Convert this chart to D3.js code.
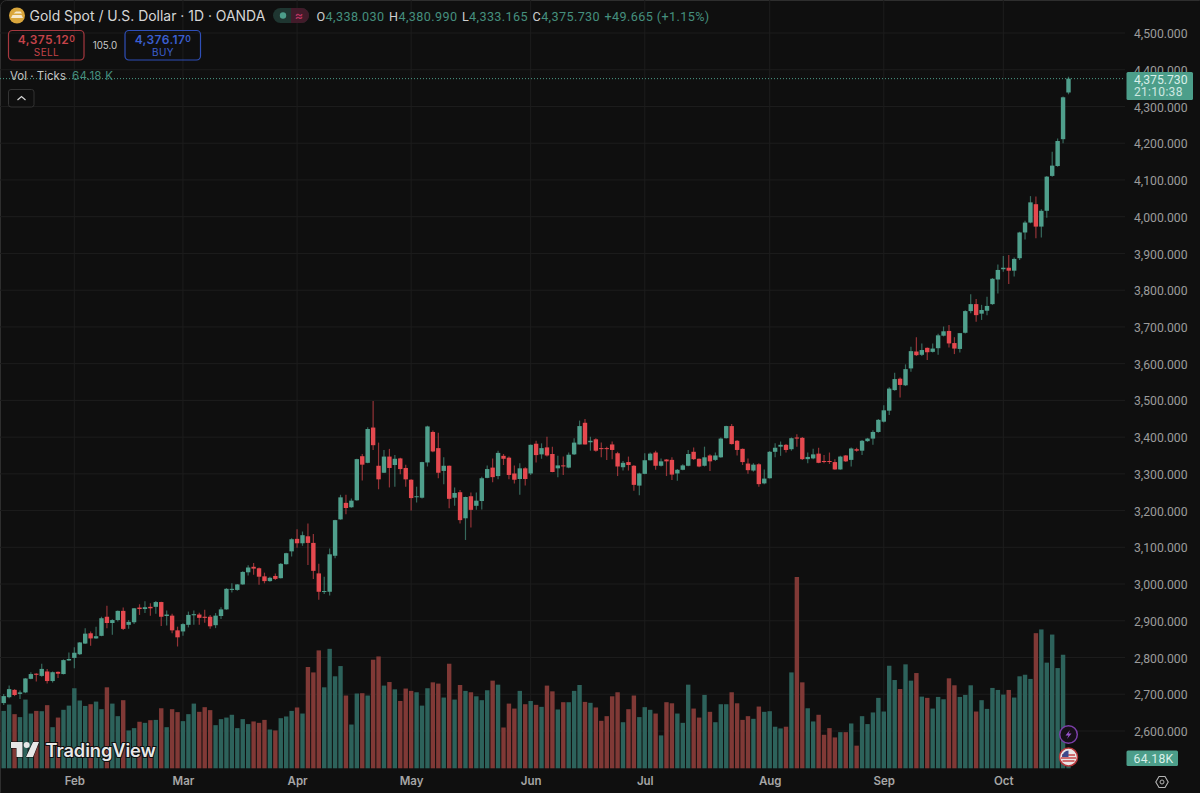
<!DOCTYPE html>
<html>
<head>
<meta charset="utf-8">
<title>Gold Spot / U.S. Dollar</title>
<script src="https://cdn.jsdelivr.net/npm/d3@7"></script>
<style>
  html, body { margin: 0; padding: 0; background: #0f0f0f; overflow: hidden; }
  svg { display: block; }
  text { font-family: Inter, Roboto, "Noto Sans", sans-serif; }
  .num { font-family: Roboto, Inter, sans-serif; }
</style>
</head>
<body>
<script>
//Step 0: Data
var opens = [
  2676,2692,2712,2701,2705,2742,2756,2750,2762,2736,
  2761,2755,2792,2799,2809,2838,2866,2852,2859,2911,
  2894,2902,2927,2889,2896,2936,2932,2938,2938,2951,
  2913,2914,2874,2871,2889,2915,2917,2911,2911,2888,
  2913,2931,2984,2984,2999,3032,3047,3043,3021,3008,
  3022,3016,3054,3089,3123,3111,3130,3112,3029,2979,
  2979,3077,3176,3221,3209,3228,3348,3330,3426,3322,
  3303,3347,3324,3342,3316,3284,3237,3235,3331,3414,
  3370,3308,3322,3235,3250,3179,3239,3213,3226,3289,
  3317,3294,3349,3344,3301,3286,3315,3301,3382,3353,
  3372,3354,3315,3323,3317,3353,3380,3439,3386,3394,
  3370,3370,3380,3356,3318,3332,3322,3268,3300,3337,
  3358,3322,3339,3338,3301,3311,3322,3360,3341,3322,
  3350,3338,3345,3397,3430,3390,3368,3328,3309,3326,
  3274,3288,3360,3374,3379,3367,3399,3398,3340,3342,
  3355,3335,3335,3332,3312,3350,3338,3367,3363,3389,
  3396,3414,3442,3472,3528,3559,3541,3587,3633,3624,
  3643,3632,3642,3676,3689,3656,3640,3684,3743,3762,
  3736,3744,3762,3829,3857,3861,3853,3887,3957,3984,
  4034,3973,4016,4111,4138,4211,4338.03
];
var highs = [
  2701,2724,2714,2710,2744,2760,2757,2783,2769,2762,
  2762,2795,2814,2828,2842,2880,2871,2884,2911,2941,
  2904,2928,2936,2902,2935,2945,2953,2948,2954,2952,
  2928,2919,2884,2893,2925,2928,2922,2930,2916,2921,
  2937,2989,3002,3000,3035,3051,3057,3045,3031,3020,
  3029,3057,3085,3125,3149,3143,3165,3136,3055,3020,
  3097,3175,3243,3243,3233,3341,3354,3427,3498,3385,
  3365,3368,3351,3344,3325,3285,3265,3333,3431,3418,
  3412,3345,3323,3263,3256,3238,3249,3249,3292,3323,
  3342,3363,3354,3347,3323,3329,3318,3380,3390,3383,
  3401,3374,3349,3347,3358,3397,3445,3449,3401,3397,
  3385,3374,3388,3360,3335,3347,3324,3303,3356,3358,
  3363,3342,3340,3345,3313,3326,3365,3372,3342,3374,
  3353,3358,3399,3431,3436,3392,3369,3342,3329,3329,
  3312,3362,3383,3388,3381,3399,3408,3400,3358,3368,
  3371,3351,3358,3340,3349,3351,3372,3371,3392,3398,
  3419,3449,3487,3536,3575,3562,3598,3646,3672,3655,
  3644,3655,3681,3701,3705,3672,3683,3745,3789,3776,
  3760,3782,3833,3870,3893,3896,3889,3959,3989,4056,
  4055,4020,4111,4177,4213,4327,4380.99
];
var lows = [
  2671,2689,2695,2687,2703,2741,2735,2748,2729,2732,
  2744,2754,2791,2771,2807,2837,2832,2851,2858,2880,
  2862,2898,2875,2878,2891,2916,2921,2914,2919,2886,
  2887,2866,2830,2859,2882,2889,2889,2895,2878,2880,
  2905,2930,2977,2982,2998,3023,3025,2998,3002,3006,
  3011,3015,3053,3075,3099,3104,3052,3014,2957,2973,
  2969,3070,3175,3190,3208,3227,3282,3329,3365,3258,
  3302,3263,3265,3299,3265,3200,3222,3233,3320,3359,
  3288,3272,3206,3213,3165,3120,3154,3202,3203,3288,
  3277,3285,3324,3285,3274,3243,3268,3297,3331,3341,
  3347,3304,3291,3297,3315,3351,3380,3380,3363,3360,
  3345,3338,3340,3294,3309,3309,3254,3242,3299,3336,
  3311,3320,3294,3283,3281,3310,3321,3338,3318,3320,
  3308,3335,3344,3396,3380,3350,3324,3300,3306,3265,
  3272,3287,3345,3349,3358,3363,3374,3338,3329,3340,
  3329,3329,3327,3311,3311,3332,3320,3360,3351,3387,
  3379,3412,3440,3460,3526,3508,3539,3578,3621,3621,
  3610,3630,3624,3674,3644,3626,3630,3682,3737,3714,
  3719,3732,3760,3791,3850,3817,3837,3882,3938,3982,
  3941,3943,3997,4109,4136,4200,4333.165
];
var closes = [
  2695,2714,2698,2705,2743,2755,2753,2769,2736,2760,
  2756,2793,2796,2813,2841,2865,2852,2858,2907,2894,
  2902,2927,2878,2897,2934,2932,2937,2934,2951,2911,
  2917,2874,2855,2891,2916,2918,2908,2908,2885,2914,
  2931,2987,2987,2999,3033,3045,3042,3020,3008,3017,
  3014,3055,3084,3122,3111,3133,3112,3036,2979,2981,
  3081,3174,3236,3207,3227,3340,3325,3422,3378,3285,
  3347,3316,3341,3313,3285,3234,3239,3332,3429,3361,
  3303,3322,3232,3248,3174,3237,3202,3227,3288,3313,
  3291,3357,3341,3297,3284,3315,3286,3379,3351,3370,
  3350,3305,3323,3321,3352,3385,3430,3380,3390,3363,
  3368,3368,3365,3320,3330,3324,3270,3301,3337,3355,
  3322,3334,3334,3298,3311,3323,3354,3340,3320,3345,
  3334,3350,3396,3430,3381,3365,3332,3310,3325,3272,
  3287,3360,3371,3379,3365,3397,3396,3340,3346,3353,
  3330,3333,3333,3312,3347,3334,3369,3363,3390,3396,
  3414,3447,3473,3532,3558,3542,3585,3634,3623,3637,
  3631,3641,3677,3688,3655,3641,3683,3743,3762,3732,
  3746,3757,3831,3855,3861,3853,3885,3957,3984,4039,
  3973,4016,4109,4139,4206,4325,4375.73
];
var volumes = [
  370,411,349,330,443,353,370,368,407,265,
  327,377,404,516,437,402,413,430,381,522,
  417,336,439,244,259,300,293,310,312,387,
  265,381,362,304,349,417,364,394,375,278,
  317,327,345,259,317,285,302,293,312,250,
  244,323,334,370,392,353,653,618,760,522,
  770,593,659,469,282,482,484,469,700,721,
  533,556,509,434,514,499,490,404,516,554,
  546,456,674,443,537,499,490,464,439,503,
  565,539,263,417,385,499,413,434,409,396,
  533,496,379,426,426,499,537,428,422,392,
  306,336,464,490,297,381,469,330,394,377,
  353,212,426,419,353,293,539,385,327,473,
  364,297,413,413,490,419,312,336,319,398,
  364,368,268,257,268,618,1233,554,387,302,
  345,216,259,199,233,233,289,146,336,285,
  360,454,366,661,569,511,670,565,614,462,
  454,385,460,445,580,535,460,473,535,366,
  439,383,518,505,475,505,456,593,603,576,
  871,895,681,862,646,732,64.18
];
var priceTicks = [2600,2700,2800,2900,3000,3100,3200,3300,3400,3500,3600,3700,3800,3900,4000,4100,4200,4300,4400,4500];
var monthTicks = [13,33,54,75,97,118,141,162,184];
var monthLabels = ['Feb','Mar','Apr','May','Jun','Jul','Aug','Sep','Oct'];
var ohlcLabels = ['O','H','L','C'];
var ohlcValues = ['4,338.030','4,380.990','4,333.165','4,375.730'];

function main() {
//Step 1: Setup
    var width = 1200;
    var height = 793;
    var plotRight = 1125;
    var plotBottom = 768.3;
    var upColor = '#4f9f8c';
    var downColor = '#e5494f';
    var upVol = '#2d625b';
    var downVol = '#803936';
    var gridColor = '#1d1d1d';
    var axisColor = '#9b9b9b';
    var tagColor = '#4c9e8a';
    var last = closes.length - 1;

    var svg = d3.select('body').append('svg')
                .attr('width', width)
                .attr('height', height);

    svg.append('rect')
        .attr('x', 0.5).attr('y', 0.5)
        .attr('width', width + 5).attr('height', height + 5)
        .attr('rx', 6)
        .attr('fill', '#0f0f0f')
        .attr('stroke', '#2e2e2e');

//Step 2: Scaling
    var x = d3.scalePoint()
                .domain(d3.range(closes.length))
                .range([3.7, 1068.5]);
    var y = d3.scaleLinear()
                .domain([2600, 4500])
                .range([731, 33]);
    var v = d3.scaleLinear()
                .domain([0, 1233])
                .range([plotBottom, 577]);
    var bodyWidth = 4.4;

//Step 3: Grid
    svg.append('g').selectAll('line')
        .data(priceTicks)
        .enter()
        .append('line')
        .attr('x1', 0).attr('x2', plotRight)
        .attr('y1', function(d){ return y(d); })
        .attr('y2', function(d){ return y(d); })
        .attr('stroke', gridColor);
    svg.append('g').selectAll('line')
        .data(monthTicks)
        .enter()
        .append('line')
        .attr('x1', function(d){ return x(d); })
        .attr('x2', function(d){ return x(d); })
        .attr('y1', 0).attr('y2', plotBottom)
        .attr('stroke', gridColor);

//Step 4: Volume and candles
    var idx = d3.range(closes.length);
    svg.append('g').selectAll('rect')
        .data(idx)
        .enter()
        .append('rect')
        .attr('x', function(i){ return x(i) - bodyWidth / 2; })
        .attr('y', function(i){ return v(volumes[i]); })
        .attr('width', bodyWidth)
        .attr('height', function(i){ return plotBottom - v(volumes[i]); })
        .attr('fill', function(i){ return closes[i] >= opens[i] ? upVol : downVol; });

    var candle = svg.append('g').selectAll('g')
        .data(idx)
        .enter()
        .append('g');
    candle.append('line')
        .attr('x1', function(i){ return x(i); })
        .attr('x2', function(i){ return x(i); })
        .attr('y1', function(i){ return y(highs[i]); })
        .attr('y2', function(i){ return y(lows[i]); })
        .attr('stroke', function(i){ return closes[i] >= opens[i] ? upColor : downColor; })
        .attr('stroke-opacity', 0.62)
        .attr('stroke-width', 1.2);
    candle.append('rect')
        .attr('x', function(i){ return x(i) - bodyWidth / 2; })
        .attr('y', function(i){ return y(Math.max(opens[i], closes[i])); })
        .attr('width', bodyWidth)
        .attr('height', function(i){ return Math.max(1, Math.abs(y(opens[i]) - y(closes[i]))); })
        .attr('fill', function(i){ return closes[i] >= opens[i] ? upColor : downColor; });

//Step 5: Axes
    var priceAxis = d3.axisRight(y)
                    .tickValues(priceTicks)
                    .tickSize(0)
                    .tickPadding(0)
                    .tickFormat(d3.format(',.3f'));
    var priceG = svg.append('g')
                    .attr('transform', 'translate(1134,0.7)')
                    .call(priceAxis);
    priceG.select('.domain').remove();
    priceG.selectAll('text')
        .attr('class', 'num')
        .attr('fill', axisColor)
        .style('font-family', 'Roboto, Inter, sans-serif')
        .style('font-size', '12.2px');

    var timeAxis = d3.axisBottom(x)
                    .tickValues(monthTicks)
                    .tickSize(0)
                    .tickPadding(0)
                    .tickFormat(function(d, i){ return monthLabels[i]; });
    var timeG = svg.append('g')
                    .attr('transform', 'translate(0,776.5)')
                    .call(timeAxis);
    timeG.select('.domain').remove();
    timeG.selectAll('text')
        .attr('fill', '#a6a6a6')
        .style('font-size', '11.5px')
        .style('font-weight', 600);

//Step 6: Last price line and tags
    svg.append('line')
        .attr('x1', 0).attr('x2', plotRight)
        .attr('y1', y(closes[last])).attr('y2', y(closes[last]))
        .attr('stroke', '#4c9e8a')
        .attr('stroke-dasharray', '1 2');

    svg.append('rect')
        .attr('x', 1126.5).attr('y', 72).attr('width', 66.5).attr('height', 28)
        .attr('rx', 1.5).attr('fill', tagColor);
    svg.append('text').attr('class', 'num').attr('x', 1134).attr('y', 83.5)
        .attr('fill', '#d9efe9').style('font-size', '12.2px')
        .text(ohlcValues[3]);
    svg.append('text').attr('class', 'num').attr('x', 1134).attr('y', 95.5)
        .attr('fill', '#cfe8e1').style('font-size', '12px').style('letter-spacing', '0.3px')
        .text('21:10:38');

    svg.append('rect')
        .attr('x', 1126.5).attr('y', 750.5).attr('width', 51.5).attr('height', 15.5)
        .attr('rx', 1.5).attr('fill', tagColor);
    svg.append('text').attr('class', 'num').attr('x', 1133.5).attr('y', 762.5)
        .attr('fill', '#d9efe9').style('font-size', '12.2px').style('letter-spacing', '0.3px')
        .text('64.18K');

    // settings hexagon
    svg.append('path')
        .attr('d', 'M1155.8 782 L1159 776.5 L1165 776.5 L1168.2 782 L1165 787.5 L1159 787.5 Z')
        .attr('fill', 'none').attr('stroke', '#b5b5b5').attr('stroke-width', 1.1);
    svg.append('circle').attr('cx', 1162).attr('cy', 782).attr('r', 2)
        .attr('fill', 'none').attr('stroke', '#b5b5b5');

//Step 7: Header
    svg.append('circle').attr('cx', 17).attr('cy', 15.5).attr('r', 8).attr('fill', '#d9a63c');
    svg.append('path').attr('d', 'M13.5 13.5 L16 11.5 L20.5 11.5 L22 13.5 Z').attr('fill', '#f6ead0');
    svg.append('path').attr('d', 'M11 18 L12.5 15 L21.5 15 L23 18 Z').attr('fill', '#f6ead0');

    svg.append('text').attr('x', 29.5).attr('y', 20.5)
        .attr('fill', '#d6d6d6').style('font-size', '13.95px')
        .text('Gold Spot / U.S. Dollar · 1D · OANDA');

    // status pill
    svg.append('rect').attr('x', 273).attr('y', 8).attr('width', 36).attr('height', 15).attr('rx', 7.5).attr('fill', '#1f3631');
    svg.append('path').attr('d', 'M291 8 H301.5 A7.5 7.5 0 0 1 301.5 23 H291 Z').attr('fill', '#421b2a');
    svg.append('circle').attr('cx', 283).attr('cy', 15.5).attr('r', 3.2).attr('fill', '#4c9e8a');
    svg.append('text').attr('x', 299).attr('y', 20).attr('text-anchor', 'middle')
        .attr('fill', '#b5345f').style('font-size', '12.5px').style('font-weight', 600).text('≈');

    var ohlc = svg.append('text').attr('class', 'num').attr('x', 316.5).attr('y', 20.5)
        .style('font-size', '12.6px').style('letter-spacing', '0.4px');
    ohlcLabels.forEach(function(label, i){
        ohlc.append('tspan').attr('fill', '#cfcfcf').attr('dx', i ? 4.5 : 0).text(label);
        ohlc.append('tspan').attr('fill', '#458f7e').text(ohlcValues[i]);
    });
    ohlc.append('tspan').attr('fill', '#458f7e').attr('dx', 4.5).text('+49.665 (+1.15%)');

    // sell / buy boxes
    var boxes = [
        {x: 8.5, color: '#a5383f', textColor: '#c4434a', price: '4,375.12', label: 'SELL'},
        {x: 125, color: '#2f4fb8', textColor: '#3b5fcf', price: '4,376.17', label: 'BUY'}
    ];
    boxes.forEach(function(b){
        svg.append('rect').attr('x', b.x).attr('y', 30.5).attr('width', 75.5).attr('height', 29.5)
            .attr('rx', 4).attr('fill', 'none').attr('stroke', b.color).attr('stroke-width', 1.2);
        var t = svg.append('text').attr('x', b.x + 38).attr('y', 44).attr('text-anchor', 'middle')
            .attr('fill', b.textColor).style('font-size', '12px').style('font-weight', 600).style('letter-spacing', '0.4px');
        t.append('tspan').text(b.price);
        t.append('tspan').attr('dy', -2.5).style('font-size', '8.5px').text('0');
        svg.append('text').attr('x', b.x + 38).attr('y', 55.5).attr('text-anchor', 'middle')
            .attr('fill', b.textColor).style('font-size', '10px').style('letter-spacing', '0.4px').text(b.label);
    });
    svg.append('text').attr('x', 105).attr('y', 49).attr('text-anchor', 'middle')
        .attr('fill', '#c8c8c8').style('font-size', '9.8px').text('105.0');

    svg.append('text').attr('x', 10).attr('y', 80)
        .attr('fill', '#c4c4c4').style('font-size', '11.5px').text('Vol · Ticks');
    svg.append('text').attr('x', 72).attr('y', 80)
        .attr('fill', '#458f7e').style('font-size', '11.5px').style('letter-spacing', '0.3px').text('64.18 K');

    // collapse button
    svg.append('rect').attr('x', 8.5).attr('y', 89.5).attr('width', 25.5).attr('height', 17.5)
        .attr('rx', 2.5).attr('fill', '#0f0f0f').attr('stroke', '#333');
    svg.append('path').attr('d', 'M17.5 100 L21.5 96.5 L25.5 100')
        .attr('fill', 'none').attr('stroke', '#d5d5d5').attr('stroke-width', 1.2);

//Step 8: TradingView mark
    var logo = svg.append('g');
    logo.append('path')
        .attr('d', 'M11 742 H22.5 V757 H16.5 V748 H11 Z M33 742 H39 L33 757 H26 Z')
        .attr('fill', '#e8e8e8').attr('stroke', '#0f0f0f').attr('stroke-width', 1).attr('paint-order', 'stroke');
    logo.append('circle').attr('cx', 26.7).attr('cy', 745).attr('r', 3)
        .attr('fill', '#e8e8e8');
    logo.append('text').attr('x', 45.5).attr('y', 756.5)
        .attr('fill', '#e8e8e8').attr('stroke', '#0f0f0f').attr('stroke-width', 2).attr('paint-order', 'stroke')
        .style('font-size', '18.3px').style('font-weight', 600).style('letter-spacing', '-0.1px')
        .text('TradingView');

//Step 9: Event markers
    svg.append('circle').attr('cx', 1068.5).attr('cy', 734.5).attr('r', 8.8)
        .attr('fill', '#161018').attr('stroke', '#7b3fa8').attr('stroke-width', 1.5);
    svg.append('path').attr('d', 'M1070 730 L1065.5 735.5 L1068.5 735.5 L1067 739 L1071.5 733.5 L1068.5 733.5 Z')
        .attr('fill', '#9a55d0');
    svg.append('circle').attr('cx', 1068.5).attr('cy', 757).attr('r', 9)
        .attr('fill', '#e9e6e6').attr('stroke', '#b5383c').attr('stroke-width', 1.5);
    svg.append('path').attr('d', 'M1062 755 H1075 M1061 758 H1076 M1062.5 761 H1074.5')
        .attr('stroke', '#c8474a').attr('stroke-width', 1.4);
    svg.append('path').attr('d', 'M1062 757 A7 7 0 0 1 1068.5 750.5 V757 Z').attr('fill', '#3c4a8c');
}

main();
</script>
</body>
</html>
